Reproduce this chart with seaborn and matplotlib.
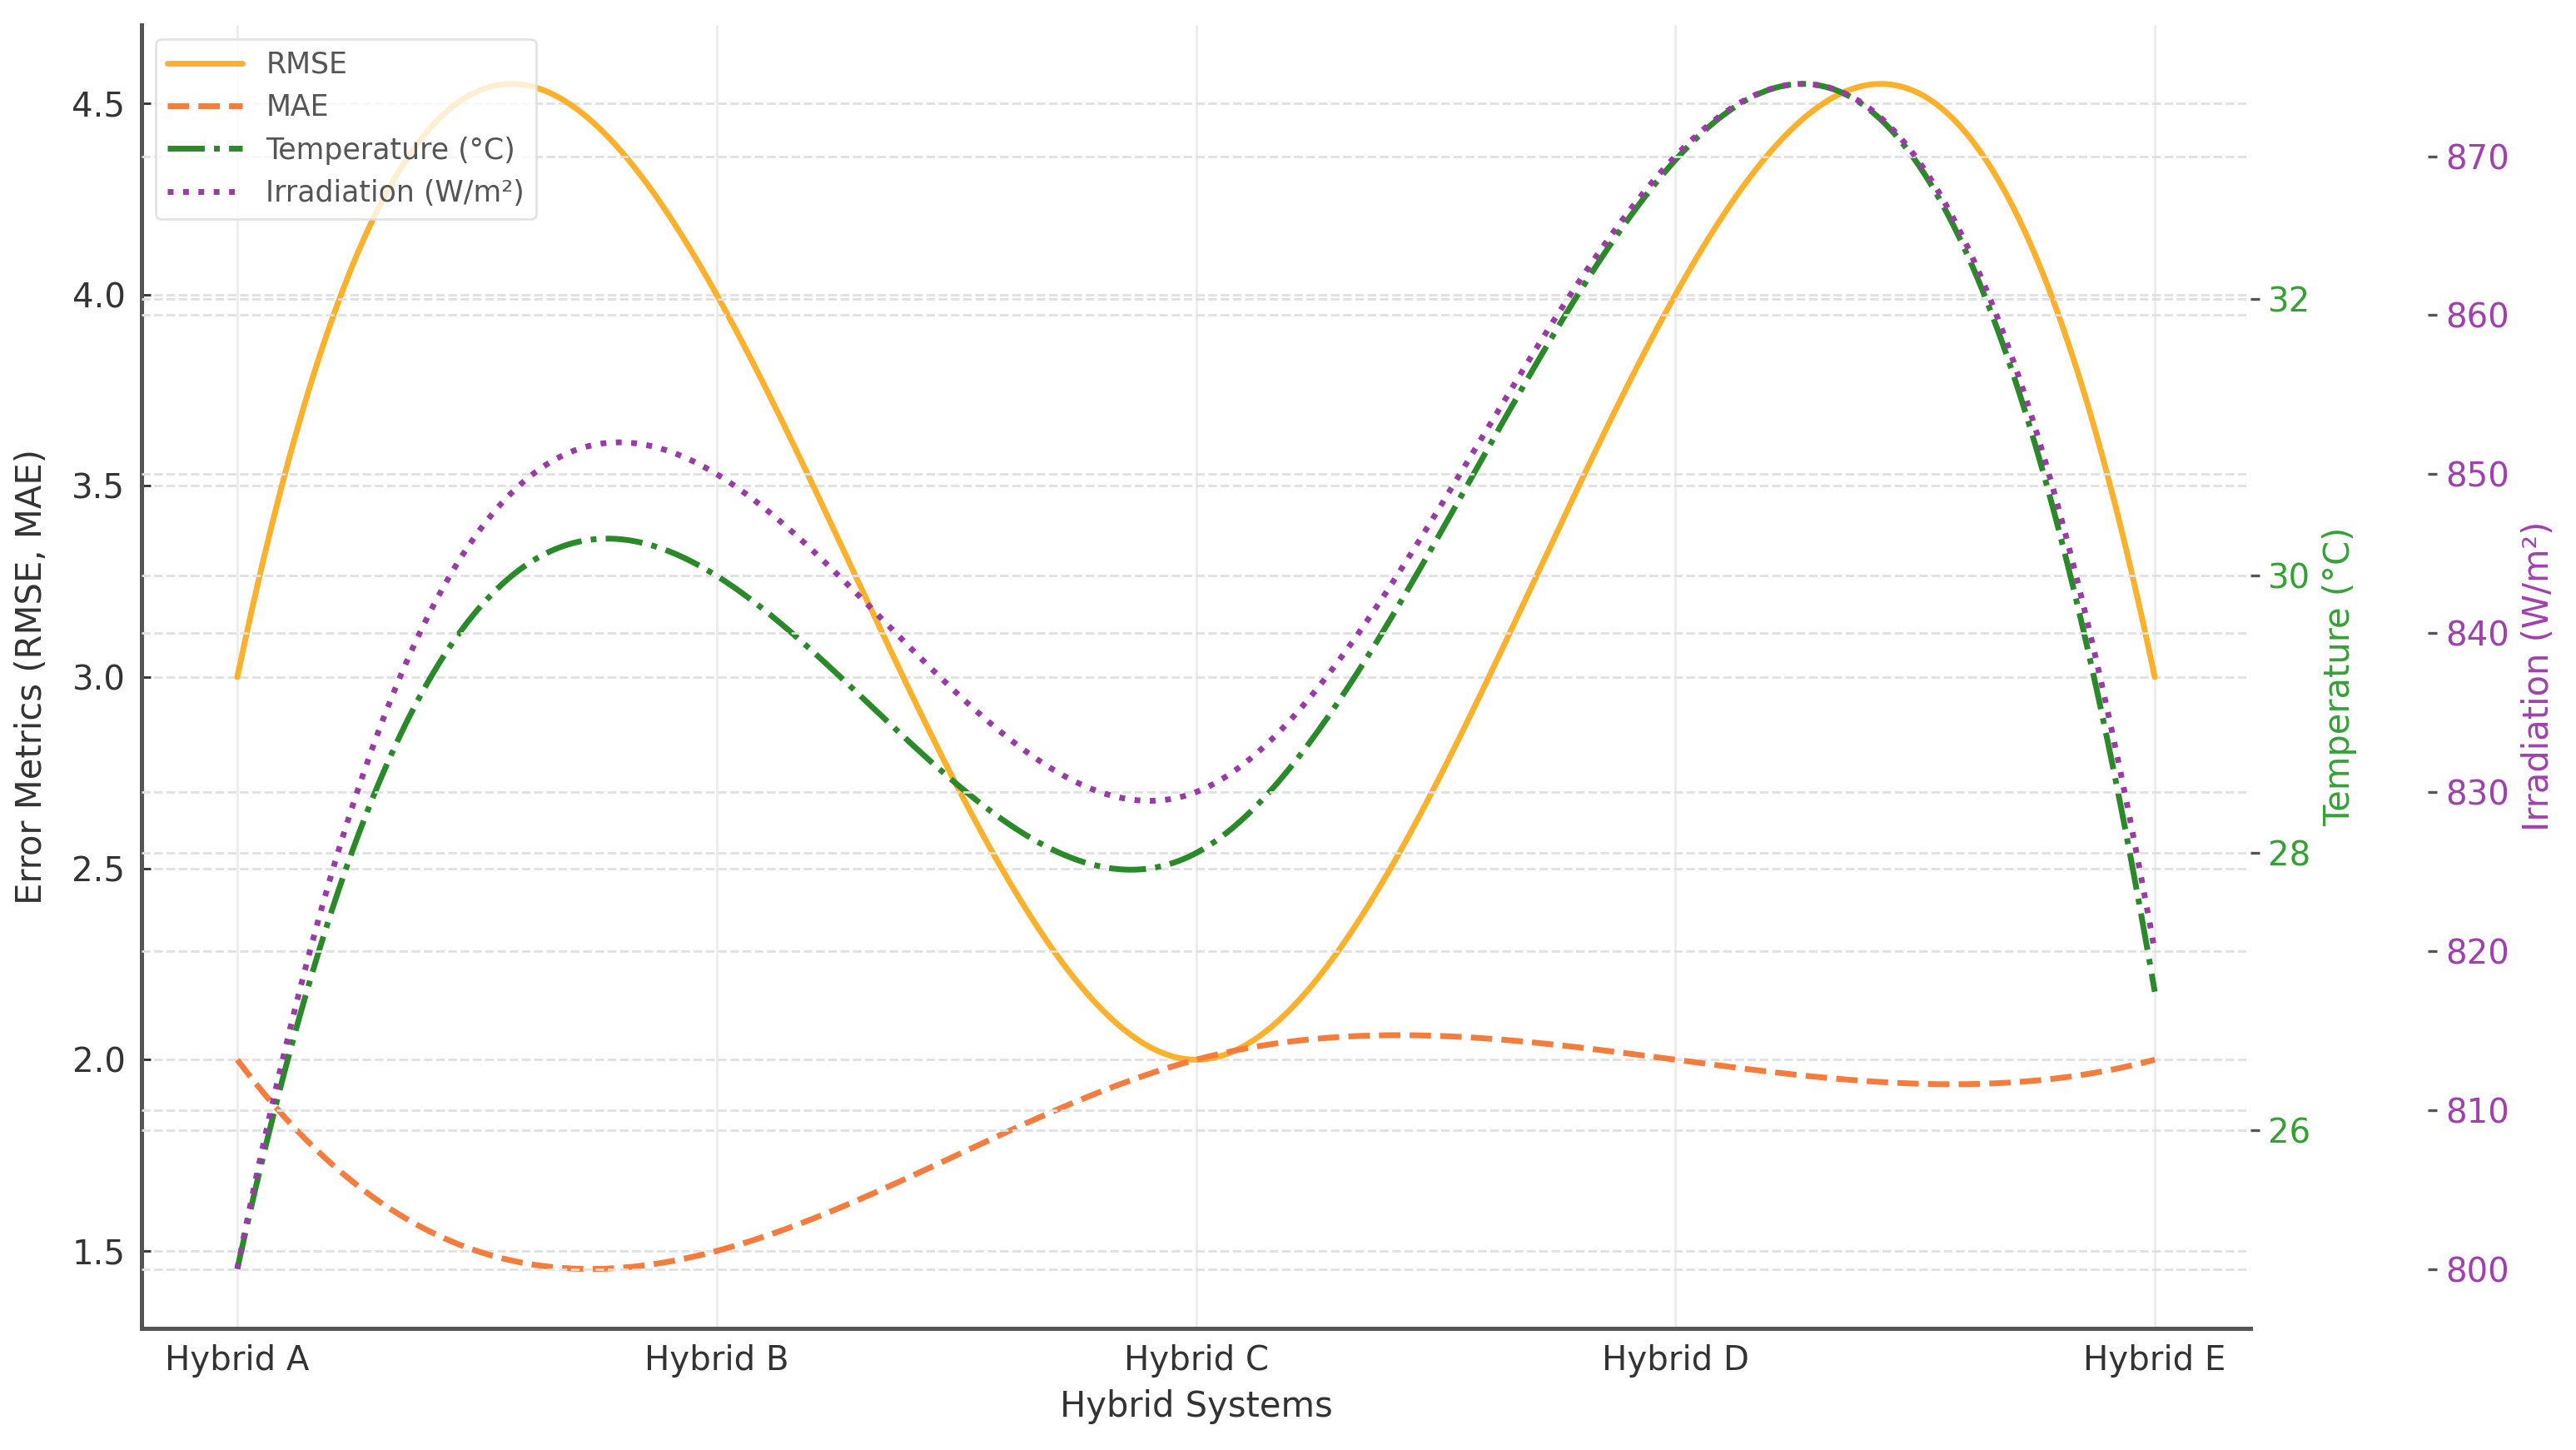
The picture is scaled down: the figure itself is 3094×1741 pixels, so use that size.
import numpy as np
import pandas as pd
import matplotlib
matplotlib.use("Agg")
import matplotlib.pyplot as plt
import seaborn as sns

# ---- data ----
systems = ["Hybrid A", "Hybrid B", "Hybrid C", "Hybrid D", "Hybrid E"]
rmse = [3.0, 4.0, 2.0, 4.0, 3.0]
mae = [2.0, 1.5, 2.0, 2.0, 2.0]
temperature = [25, 30, 28, 33, 27]
irradiation = [800, 850, 830, 870, 820]


def smooth_curve(values, n=400):
    """Not-a-knot cubic spline through the data points (for a smooth line)."""
    x = np.arange(len(values), dtype=float)
    y = np.asarray(values, dtype=float)
    h = np.diff(x)
    m = len(x)
    A = np.zeros((m, m))
    r = np.zeros(m)
    for i in range(1, m - 1):
        A[i, i - 1] = h[i - 1]
        A[i, i] = 2 * (h[i - 1] + h[i])
        A[i, i + 1] = h[i]
        r[i] = 6 * ((y[i + 1] - y[i]) / h[i] - (y[i] - y[i - 1]) / h[i - 1])
    A[0, 0], A[0, 1], A[0, 2] = h[1], -(h[0] + h[1]), h[0]
    A[-1, -3], A[-1, -2], A[-1, -1] = h[-1], -(h[-2] + h[-1]), h[-2]
    M = np.linalg.solve(A, r)
    xs = np.linspace(x[0], x[-1], n)
    idx = np.clip(np.searchsorted(x, xs) - 1, 0, m - 2)
    x0, x1 = x[idx], x[idx + 1]
    hh = x1 - x0
    ys = (M[idx] * (x1 - xs) ** 3 / (6 * hh) + M[idx + 1] * (xs - x0) ** 3 / (6 * hh)
          + (y[idx] / hh - M[idx] * hh / 6) * (x1 - xs)
          + (y[idx + 1] / hh - M[idx + 1] * hh / 6) * (xs - x0))
    return xs, ys


sns.set_style("white")
plt.rcParams["font.family"] = ["DejaVu Sans"]

fig, ax = plt.subplots(figsize=(15.47, 8.705), dpi=200)
fig.subplots_adjust(left=0.0549, right=0.8737, top=0.983, bottom=0.084)

c_rmse = "#FBB12C"
c_mae = "#F47C3C"
c_temp = "#2A8A2A"
c_irr = "#9A3AA6"
c_temp_txt = "#36A036"
c_irr_txt = "#A040AE"

xs, ys = smooth_curve(rmse)
sns.lineplot(x=xs, y=ys, ax=ax, color=c_rmse, linewidth=2.5, label="RMSE")
xs, ys = smooth_curve(mae)
sns.lineplot(x=xs, y=ys, ax=ax, color=c_mae, linewidth=2.5, linestyle="--", label="MAE")

ax2 = ax.twinx()
xs, ys = smooth_curve(temperature)
sns.lineplot(x=xs, y=ys, ax=ax2, color=c_temp, linewidth=2.5, linestyle="-.",
             label="Temperature (°C)")

ax3 = ax.twinx()
ax3.spines["right"].set_position(("axes", 1.084))
xs, ys = smooth_curve(irradiation)
sns.lineplot(x=xs, y=ys, ax=ax3, color=c_irr, linewidth=2.5, linestyle=":",
             label="Irradiation (W/m²)")

for a in (ax, ax2, ax3):
    lg = a.get_legend()
    if lg is not None:
        lg.remove()

# x axis
ax.set_xticks(range(len(systems)))
ax.set_xticklabels(systems)
ax.set_xlabel("Hybrid Systems", fontsize=15, color="#333333", labelpad=5)
ax.set_ylabel("Error Metrics (RMSE, MAE)", fontsize=15, color="#333333", labelpad=10)
ax.set_yticks([1.5, 2.0, 2.5, 3.0, 3.5, 4.0, 4.5])
ax.tick_params(axis="both", labelsize=14.5, colors="#333333", direction="in",
               length=4, width=1, pad=7)

ax2.set_ylabel("Temperature (°C)", fontsize=15, color=c_temp_txt, labelpad=5)
ax2.set_yticks([26, 28, 30, 32])
ax2.tick_params(axis="y", labelsize=14.5, labelcolor=c_temp_txt, color="#555555",
                length=4, width=1.2)

ax3.set_ylabel("Irradiation (W/m²)", fontsize=15, color=c_irr_txt, labelpad=5)
ax3.set_yticks([800, 810, 820, 830, 840, 850, 860, 870])
ax3.tick_params(axis="y", labelsize=14.5, labelcolor=c_irr_txt, color="#555555",
                length=4, width=1.2)

# grids
ax.grid(True, axis="x", color="#ececec", linewidth=1.0, linestyle="-")
ax.grid(True, axis="y", color="#e0e0e0", linewidth=1.0, linestyle="--")
ax2.grid(True, axis="y", color="#e0e0e0", linewidth=1.0, linestyle="--")
ax3.grid(True, axis="y", color="#e0e0e0", linewidth=1.0, linestyle="--")

# spines
for s in ("top", "right"):
    ax.spines[s].set_visible(False)
for a in (ax2, ax3):
    for s in a.spines.values():
        s.set_visible(False)
for s in ("left", "bottom"):
    ax.spines[s].set_color("#555555")
    ax.spines[s].set_linewidth(1.8)

# legend
handles, labels = [], []
for a in (ax, ax2, ax3):
    h, l = a.get_legend_handles_labels()
    handles += h
    labels += l
ax3.legend(handles, labels, loc="upper left", fontsize=12.5, frameon=True,
           framealpha=0.8, edgecolor="#dddddd", handlelength=2.6,
           bbox_to_anchor=(0.0, 1.0), borderaxespad=0.5, labelcolor="#555555")

fig.savefig("out.png", dpi=200)
